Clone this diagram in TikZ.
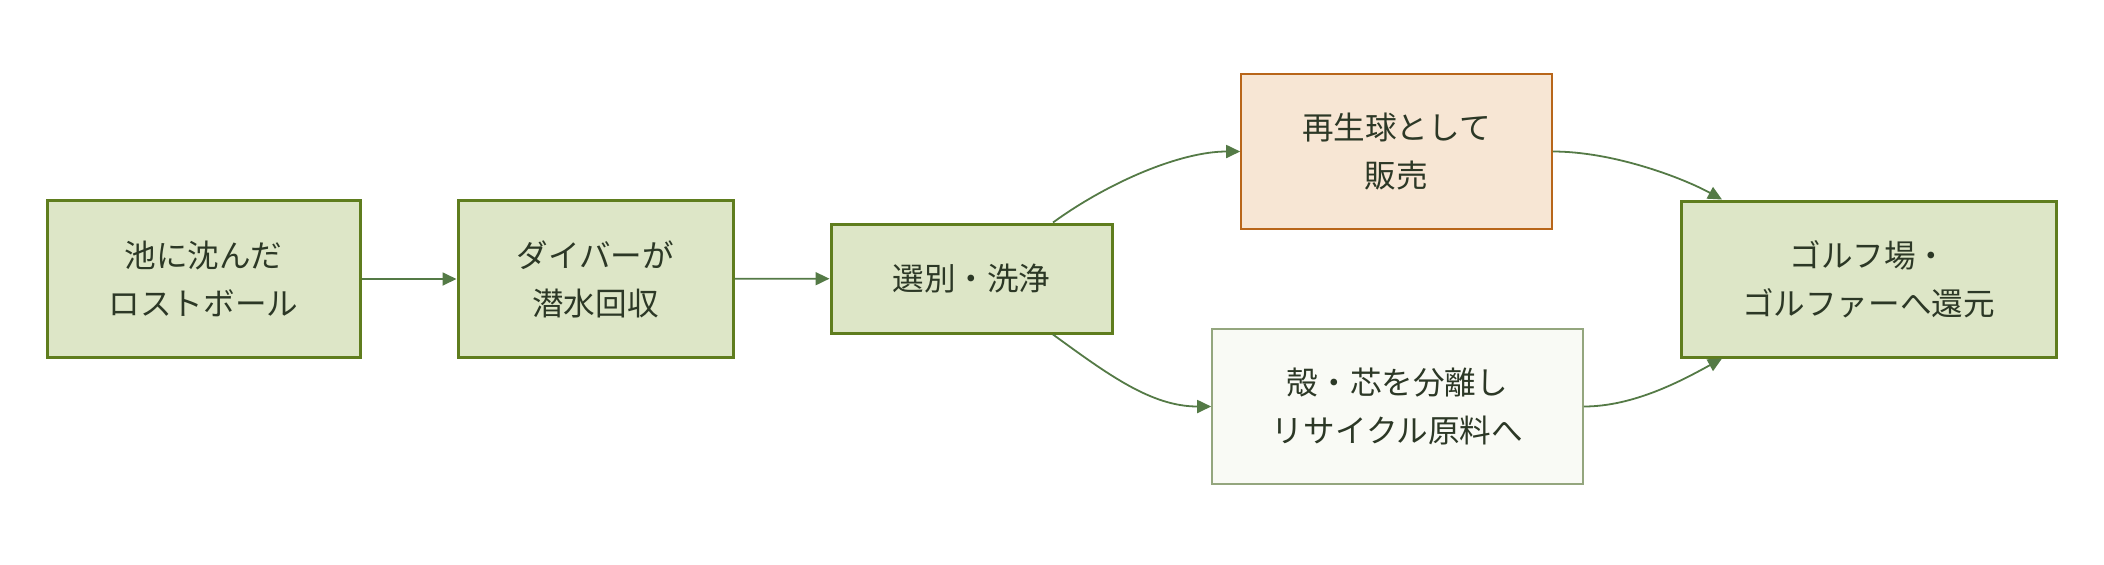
\documentclass[tikz,border=0pt]{standalone}
\usepackage{fontspec}
\setmainfont{Noto Sans CJK JP}
\usetikzlibrary{arrows.meta}
\definecolor{txtc}{HTML}{2C3826}
\definecolor{grnfill}{HTML}{DDE6C7}
\definecolor{grnline}{HTML}{5F7D1E}
\definecolor{orgfill}{HTML}{F7E6D4}
\definecolor{orgline}{HTML}{B8661A}
\definecolor{palefill}{HTML}{F9FAF5}
\definecolor{paleline}{HTML}{94A67E}
\definecolor{arrc}{HTML}{547A46}
\tikzset{
  box/.style={rectangle,align=center,text=txtc,font=\fontsize{15.8}{24}\selectfont,inner sep=0pt},
  mainbox/.style={box,fill=grnfill,draw=grnline,line width=1.5pt},
  sellbox/.style={box,fill=orgfill,draw=orgline,line width=0.8pt},
  recbox/.style={box,fill=palefill,draw=paleline,line width=0.8pt},
  flow/.style={draw=arrc,line width=0.9pt,-{Triangle[length=7pt,width=6.5pt]}}
}
\begin{document}
\begin{tikzpicture}[x=0.5pt,y=-0.5pt]
    \useasboundingbox (0,0) rectangle (2104,564);
    
    % main line
    \node[mainbox,minimum width=156.5pt,minimum height=78.5pt] (lost) at (203.5,279) {池に沈んだ\\ロストボール};
    \node[mainbox,minimum width=137.5pt,minimum height=78.5pt] (dive) at (595.5,279) {ダイバーが\\潜水回収};
    \node[mainbox,minimum width=140.5pt,minimum height=54.5pt] (sort) at (971.5,278.5) {選別・洗浄};
    
    % two branches
    \node[sellbox,minimum width=155.5pt,minimum height=77.5pt] (sell) at (1396.5,151.5) {再生球として\\販売};
    \node[recbox,minimum width=185.5pt,minimum height=77.5pt] (recyc) at (1397.5,406.5) {殻・芯を分離し\\リサイクル原料へ};
    
    % result
    \node[mainbox,minimum width=187.5pt,minimum height=78pt] (ret) at (1868.5,279) {ゴルフ場・\\ゴルファーへ還元};
    
    % connectors
    \draw[flow] (lost) -- (dive);
    \draw[flow] (dive) -- (sort);
    \draw[flow] ([xshift=40.75pt]sort.north) .. controls +(55,-40) and +(-60,0) .. (sell.west);
    \draw[flow] ([xshift=40.75pt]sort.south) .. controls +(55,40) and +(-60,0) .. (recyc.west);
    \draw[flow] (sell.east) .. controls +(60,0) and +(-40,-22) .. ([xshift=-73.25pt]ret.north);
    \draw[flow] (recyc.east) .. controls +(50,0) and +(-40,22) .. ([xshift=-73.25pt]ret.south);
\end{tikzpicture}
\end{document}
